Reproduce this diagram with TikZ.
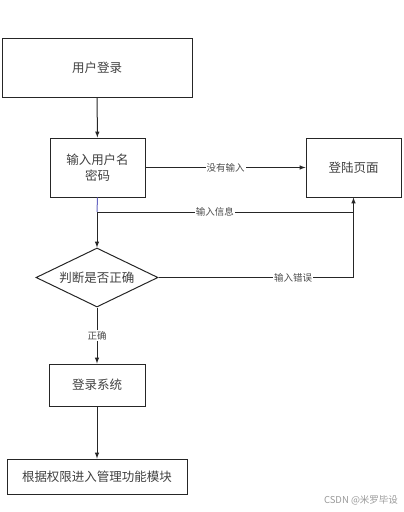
\documentclass[tikz,border=0pt]{standalone}
\usepackage{fontspec}
\newfontfamily\cjk{Noto Sans CJK SC}
\usetikzlibrary{shapes.geometric}

\begin{document}
\begin{tikzpicture}[x=1pt,y=-1pt,
        box/.style={draw=black!85, line width=1pt, text=black!75, font=\cjk\fontsize{12.5}{16}\selectfont, inner sep=0pt, align=center},
        lbl/.style={fill=white, text=black!70, font=\cjk\fontsize{9.5}{11}\selectfont, inner sep=1pt},
        link/.style={draw=black!85, line width=1pt}]
        \useasboundingbox (0,0) rectangle (404,512);
        % boxes
        \node[box, minimum width=190pt, minimum height=59pt] (login) at (97,67.5) {用户登录};
        \node[box, minimum width=95pt, minimum height=59pt] (input) at (97.5,167.5) {输入用户名\\密码};
        \node[box, minimum width=95pt, minimum height=59pt] (page) at (353.5,167.5) {登陆页面};
        \node[box, diamond, aspect=2, minimum width=122pt, minimum height=59pt] (check) at (97,277.5) {判断是否正确};
        \node[box, minimum width=96pt, minimum height=42pt] (sys) at (97,385) {登录系统};
        \node[box, minimum width=180pt, minimum height=35pt] (module) at (97,476.5) {根据权限进入管理功能模块};
        % bends
        \coordinate (split) at (97,212);
        \coordinate (info) at (353.5,212);
        \coordinate (wrong) at (353.5,277.5);
        % links
        \draw[link, -latex] (login) -- (input);
        \draw[link, -latex] (input.east) -- node[lbl]{没有输入} (page.west);
        \draw[line width=1pt, draw=blue!60!black!60] (input.south) -- (split);
        \draw[link] (split) -- node[lbl, pos=0.46]{输入信息} (info);
        \draw[link, -latex] (split) -- (check.north);
        \draw[link, -latex] (check.east) -- node[lbl, pos=0.69]{输入错误} (wrong) -- (page.south);
        \draw[link, -latex] (check.south) -- node[lbl]{正确} (sys.north);
        \draw[link, -latex] (sys) -- (module);
        \node[text=black!40, font=\cjk\fontsize{9.5}{11}\selectfont] (mark) at (361,500) {CSDN @米罗毕设};
    \end{tikzpicture}
\end{document}
